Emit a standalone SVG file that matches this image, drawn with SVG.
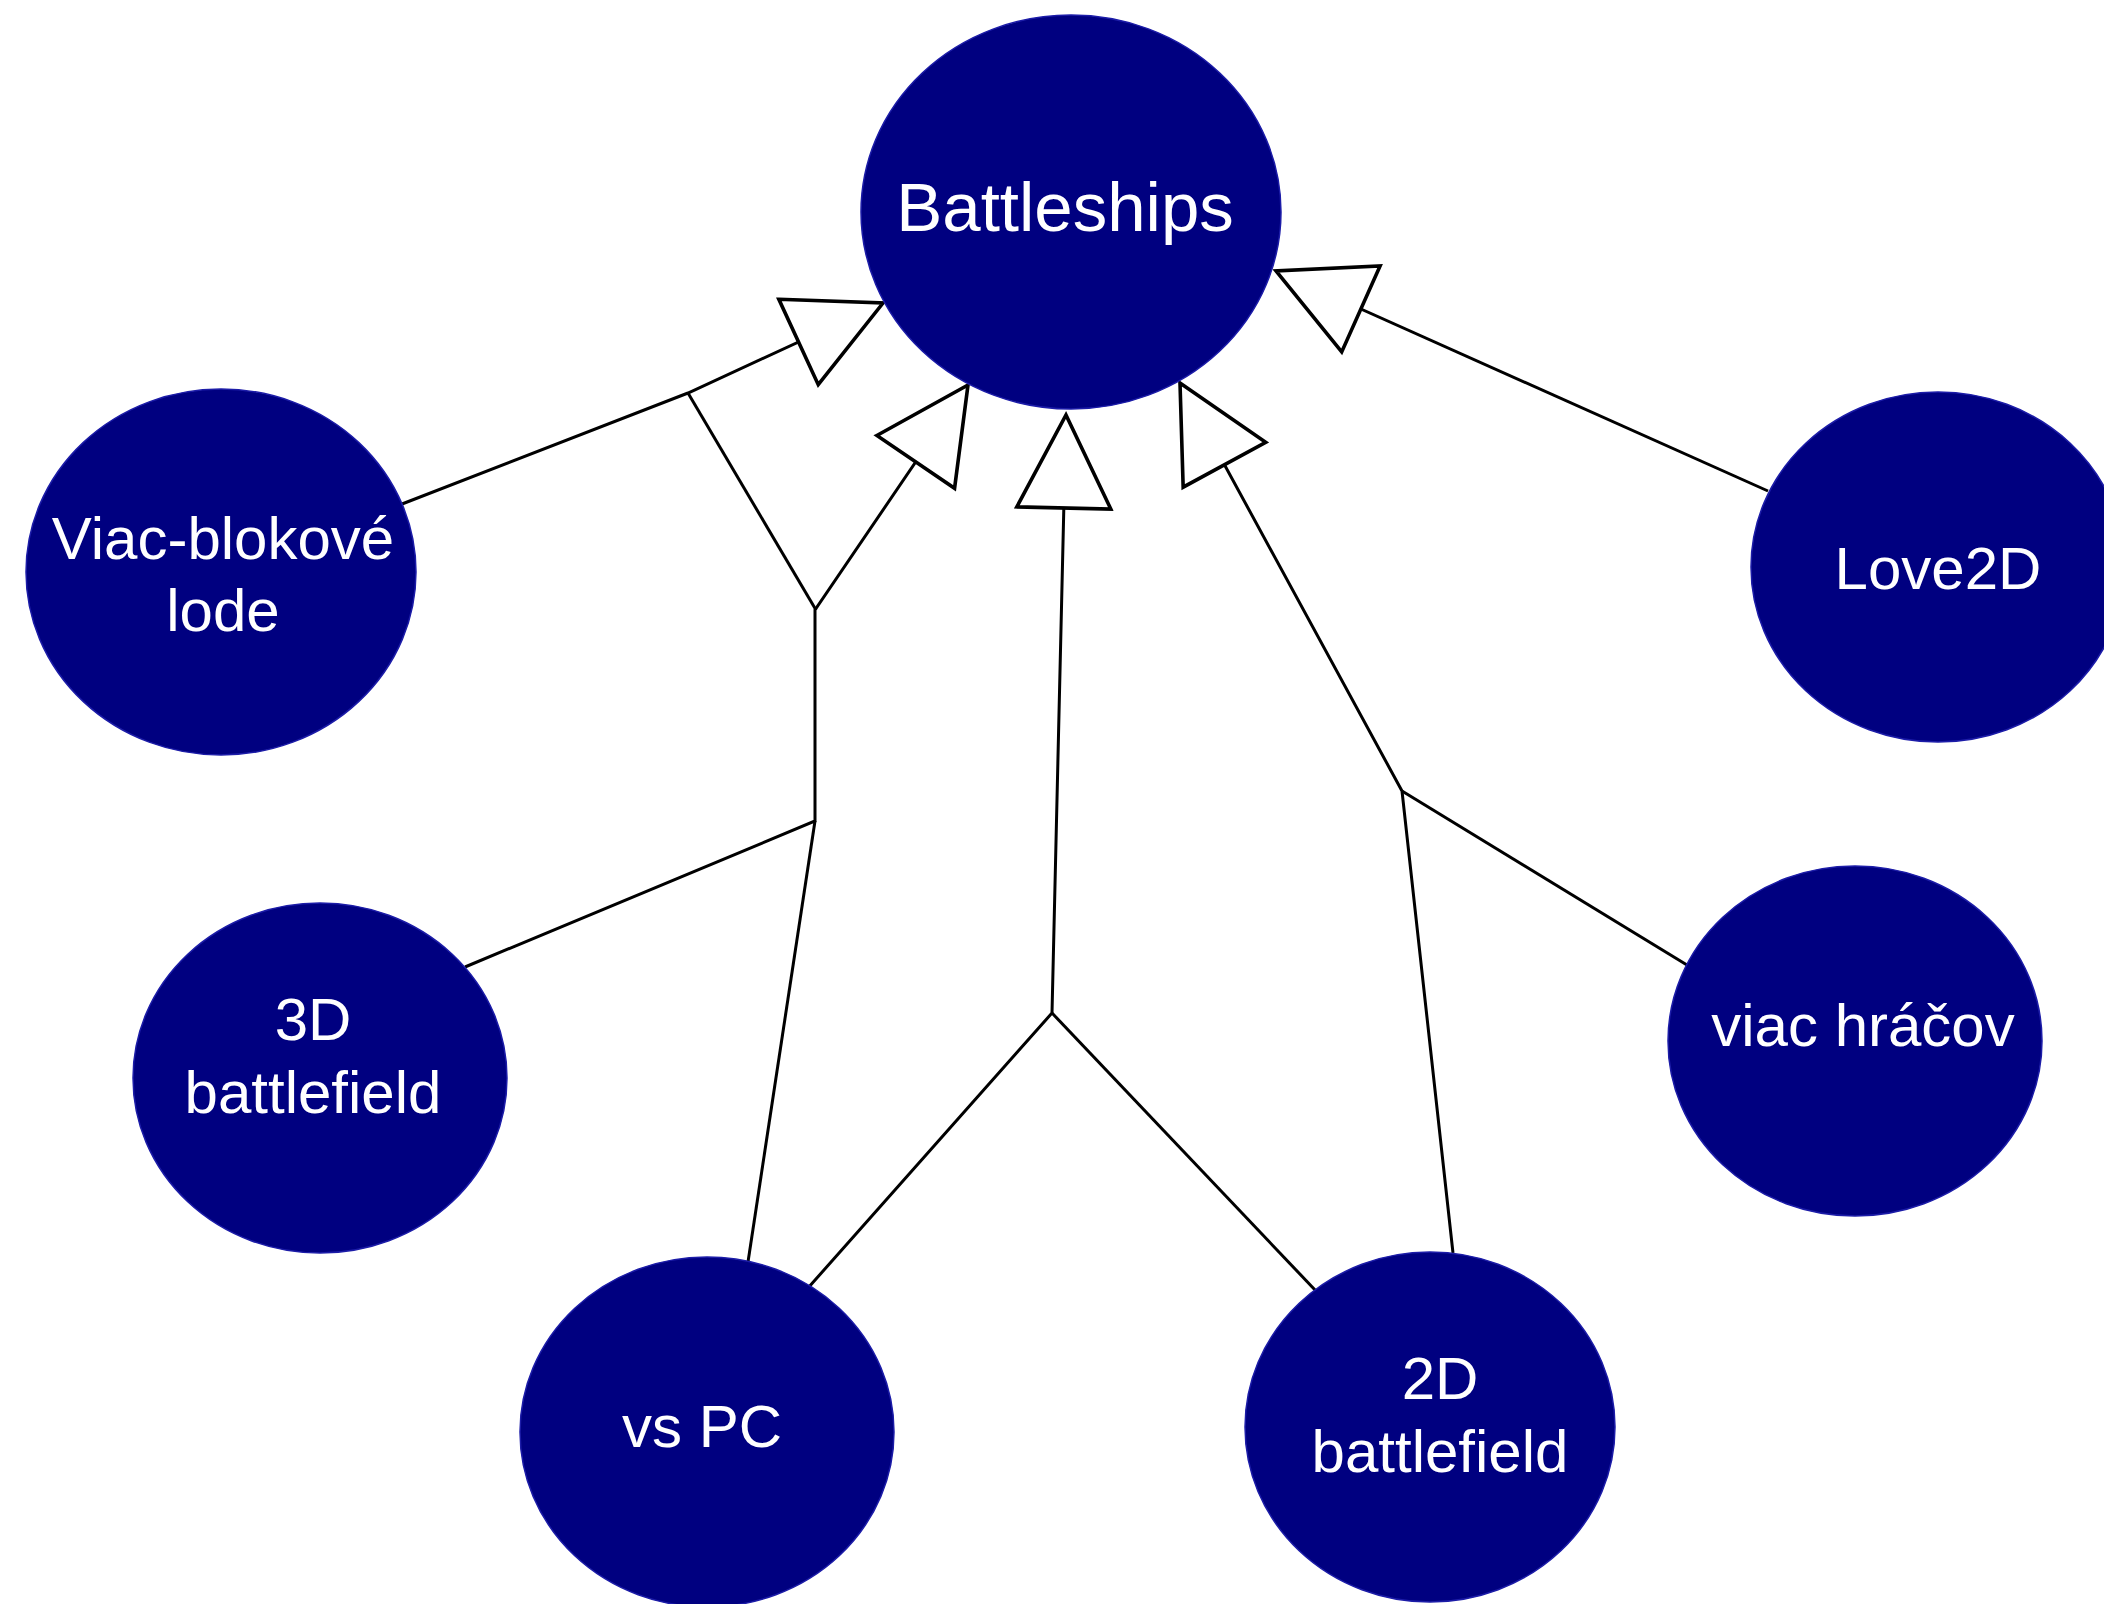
<svg xmlns="http://www.w3.org/2000/svg" width="2104" height="1604" viewBox="0 0 2104 1604">
  <style>
    .node ellipse { fill: #000080; stroke: #1c1ca8; stroke-width: 1.5; }
    .node text { fill: #ffffff; font-family: "Liberation Sans", Arial, sans-serif; font-size: 60px; text-anchor: middle; }
    .conn path { fill: none; stroke: #000000; stroke-width: 3; stroke-linejoin: miter; }
  </style>
  <defs>
    <marker id="hollow" markerUnits="userSpaceOnUse" markerWidth="104" markerHeight="104" viewBox="-5 -5 104 104" refX="93" refY="47" orient="auto">
      <path d="M0,0 L93,47 L0,94 Z" fill="#ffffff" stroke="#000000" stroke-width="3.6"/>
    </marker>
  </defs>
  <rect width="2104" height="1604" fill="#ffffff"/>

  <g id="connectors" class="conn">
    <path d="M402,504 L688,393 L883,303" marker-end="url(#hollow)"/>
    <path d="M688,393 L816,610"/>
    <path d="M465,967 L815,821 L815,610 L968,385" marker-end="url(#hollow)"/>
    <path d="M748,1262 L815,821"/>
    <path d="M808,1288 L1052,1013 L1066,415" marker-end="url(#hollow)"/>
    <path d="M1316,1291 L1052,1013"/>
    <path d="M1453,1253 L1402,791 L1180,383" marker-end="url(#hollow)"/>
    <path d="M1687,965 L1402,791"/>
    <path d="M1768,491 L1276,271" marker-end="url(#hollow)"/>
  </g>

  <g id="node-battleships" class="node">
    <ellipse cx="1071" cy="212" rx="210" ry="197"/>
    <text x="1065" y="231" style="font-size:69px">Battleships</text>
  </g>
  <g id="node-viac-blokove" class="node">
    <ellipse cx="221" cy="572" rx="195" ry="183"/>
    <text x="223" y="559">Viac-blokové</text>
    <text x="223" y="631">lode</text>
  </g>
  <g id="node-love2d" class="node">
    <ellipse cx="1938" cy="567" rx="187" ry="175"/>
    <text x="1938" y="589">Love2D</text>
  </g>
  <g id="node-3d" class="node">
    <ellipse cx="320" cy="1078" rx="187" ry="175"/>
    <text x="313" y="1040">3D</text>
    <text x="313" y="1113">battlefield</text>
  </g>
  <g id="node-vspc" class="node">
    <ellipse cx="707" cy="1432" rx="187" ry="175"/>
    <text x="702" y="1447">vs PC</text>
  </g>
  <g id="node-2d" class="node">
    <ellipse cx="1430" cy="1427" rx="185" ry="175"/>
    <text x="1440" y="1399">2D</text>
    <text x="1440" y="1472">battlefield</text>
  </g>
  <g id="node-viac-hracov" class="node">
    <ellipse cx="1855" cy="1041" rx="187" ry="175"/>
    <text x="1863" y="1046">viac hráčov</text>
  </g>
</svg>
